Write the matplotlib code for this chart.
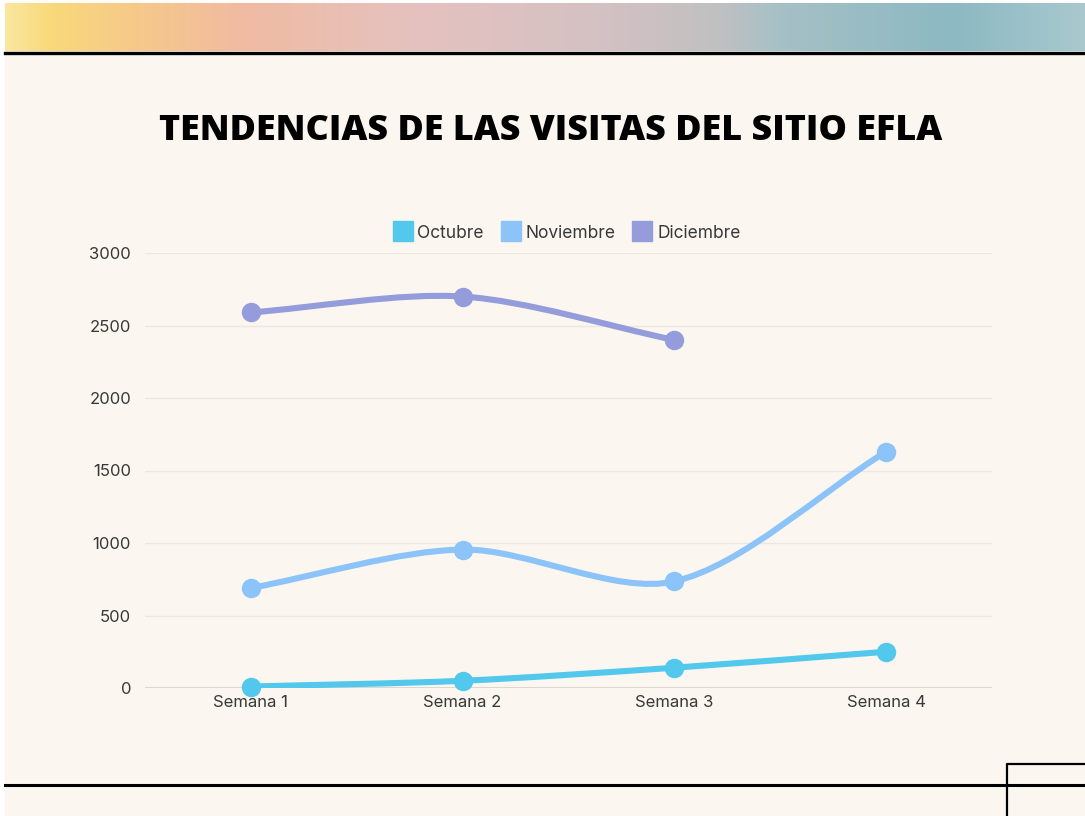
import numpy as np
import matplotlib
matplotlib.use("Agg")
from matplotlib import pyplot as plt
from matplotlib.colors import LinearSegmentedColormap
from matplotlib.path import Path
from matplotlib.patches import PathPatch, Rectangle
from matplotlib.lines import Line2D

# Data
semanas = ["Semana 1", "Semana 2", "Semana 3", "Semana 4"]
octubre = [10, 50, 140, 250]
noviembre = [690, 955, 735, 1630]
diciembre = [2590, 2700, 2400]

titulo = "TENDENCIAS DE LAS VISITAS DEL SITIO EFLA"
colores = {"Octubre": "#52C8EC", "Noviembre": "#8CC3F8", "Diciembre": "#959CDB"}
crema = "#FBF7F0"
texto = "#383838"
fuente = "Inter"

W, H = 1085, 816
fig = plt.figure(figsize=(W / 100, H / 100), dpi=100, facecolor="white")

# background card and decorations (figure pixel coords)
bg = fig.add_axes([0, 0, 1, 1])
bg.set_xlim(0, W)
bg.set_ylim(H, 0)
bg.axis("off")
bg.add_patch(Rectangle((5, 3), W - 5, H - 3, color=crema, zorder=0))

grad = LinearSegmentedColormap.from_list("banda", [
    (0.00, "#FBE6A0"), (0.04, "#F9D97A"), (0.12, "#F6C98A"),
    (0.22, "#F0BBA2"), (0.38, "#E5C2BF"), (0.55, "#D4C1C3"),
    (0.66, "#C1C0C1"), (0.72, "#A5C0C6"), (0.88, "#8CB9C2"),
    (1.00, "#A8C8CE")])
bg.imshow(np.linspace(0, 1, 256)[None, :], cmap=grad, aspect="auto",
          extent=(5, W, 51, 3), zorder=1)
bg.plot([5, W], [53, 53], color="black", lw=2.4, zorder=2)
bg.plot([5, W], [784.5, 784.5], color="black", lw=2.2, zorder=2)
bg.plot([1006.5, 1006.5, W], [H, 764, 764], color="black", lw=1.6, zorder=2)

fig.text(551 / W, 1 - 131 / H, titulo, ha="center", va="center",
         fontsize=25.8, fontweight="heavy", family="Open Sans", color="black")

ax = fig.add_axes([145 / W, 1 - 688 / H, 847 / W, 435 / H])
ax.set_facecolor("none")
ax.set_xlim(-0.5, 3.5)
ax.set_ylim(0, 3000)
ax.set_yticks([0, 500, 1000, 1500, 2000, 2500, 3000])
ax.set_xticks(range(len(semanas)))
ax.set_xticklabels(semanas)
for s in ax.spines.values():
    s.set_visible(False)
ax.grid(axis="y", color="#ECE7DF", lw=1)
ax.axhline(0, color="#D6D2CC", lw=1.2, zorder=1)
ax.tick_params(length=0, labelsize=12, labelcolor=texto, pad=10)
ax.tick_params(axis="x", pad=5)
for lab in ax.get_xticklabels() + ax.get_yticklabels():
    lab.set_family(fuente)
ax.set_axisbelow(True)


def curva(ax, ys, color, tension=0.3):
    """Smooth bezier through the points, chart.js style"""
    pts = ax.transData.transform(np.column_stack([np.arange(len(ys)), ys]))
    n = len(pts)
    verts = [pts[0]]
    codes = [Path.MOVETO]
    cps = []
    for i in range(n):
        prev = pts[max(i - 1, 0)]
        nxt = pts[min(i + 1, n - 1)]
        cur = pts[i]
        d01 = np.hypot(*(cur - prev))
        d12 = np.hypot(*(nxt - cur))
        tot = d01 + d12
        s01 = d01 / tot if tot else 0
        s12 = d12 / tot if tot else 0
        cps.append((cur - tension * s01 * (nxt - prev),
                    cur + tension * s12 * (nxt - prev)))
    for i in range(n - 1):
        verts += [cps[i][1], cps[i + 1][0], pts[i + 1]]
        codes += [Path.CURVE4] * 3
    verts = ax.transData.inverted().transform(np.array(verts))
    ax.add_patch(PathPatch(Path(verts, codes), fill=False, ec=color,
                           lw=4.4, capstyle="round", zorder=3))
    ax.plot(range(len(ys)), ys, "o", color=color, ms=13, zorder=4,
            clip_on=False)


curva(ax, diciembre, colores["Diciembre"])
curva(ax, noviembre, colores["Noviembre"])
curva(ax, octubre, colores["Octubre"])

handles = [Line2D([], [], marker="s", ls="", ms=15, color=c) for c in colores.values()]
leg = fig.legend(handles, list(colores.keys()), loc="center",
                 bbox_to_anchor=(566 / W, 1 - 233 / H), ncol=3, frameon=False,
                 handletextpad=0.2, columnspacing=0.9, handlelength=1.3,
                 prop=dict(family=fuente, size=12.5))
for t in leg.get_texts():
    t.set_color(texto)

fig.savefig("out.png", dpi=100, facecolor="white")
